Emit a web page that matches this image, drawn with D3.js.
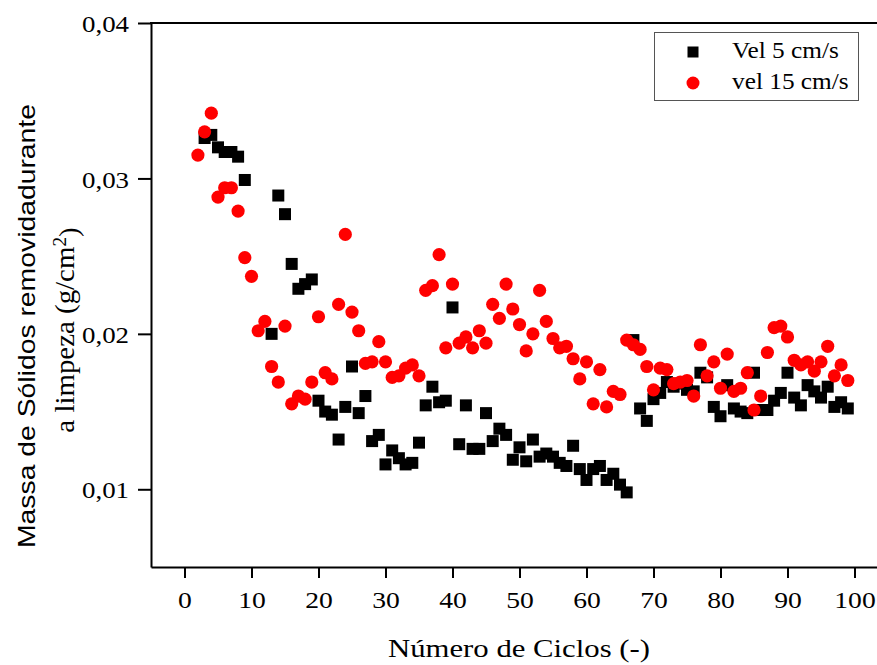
<!DOCTYPE html>
<html>
<head>
<meta charset="utf-8">
<script src="https://cdn.jsdelivr.net/npm/d3@7/dist/d3.min.js"></script>
<style>
  html, body { margin: 0; padding: 0; background: #fff; }
  svg { display: block; }
</style>
</head>
<body>
<svg id="chart" width="877" height="665"></svg>
<script>
// Cycle numbers and removed mass (g/cm²) for each cleaning speed
const cycles5 = [3,4,5,6,7,8,9,13,14,15,16,17,18,19,20,21,22,23,24,25,26,27,28,29,30,
  31,32,33,34,35,36,37,38,39,40,41,42,43,44,45,46,47,48,49,50,51,52,53,54,55,56,57,58,59,60,
  61,62,63,64,65,66,67,68,69,70,71,72,73,74,75,76,77,78,79,80,81,82,83,84,85,86,87,88,89,90,
  91,92,93,94,95,96,97,98,99];
const mass5 = [0.0326,0.0328,0.0320,0.0317,0.0317,0.0314,0.0299,0.0200,0.0289,0.0277,0.0245,
  0.0229,0.0232,0.0235,0.0157,0.0150,0.0148,0.0132,0.0153,0.0179,0.0149,0.0160,0.0131,0.0135,
  0.0116,0.0125,0.0120,0.0116,0.0117,0.0130,0.0154,0.0166,0.0156,0.0157,0.0217,0.0129,0.0154,
  0.0126,0.0126,0.0149,0.0131,0.0139,0.0135,0.0119,0.0127,0.0118,0.0132,0.0121,0.0123,0.0121,
  0.0117,0.0115,0.0128,0.0113,0.0106,0.0113,0.0115,0.0106,0.0110,0.0103,0.0098,0.0196,0.0152,
  0.0144,0.0158,0.0162,0.0169,0.0166,0.0168,0.0164,0.0163,0.0175,0.0172,0.0153,0.0147,0.0167,
  0.0152,0.0150,0.0149,0.0175,0.0151,0.0151,0.0157,0.0162,0.0175,0.0159,0.0154,0.0167,0.0163,
  0.0159,0.0166,0.0153,0.0156,0.0152];

const cycles15 = [2,3,4,5,6,7,8,9,10,11,12,13,14,15,16,17,18,19,20,21,22,23,24,25,26,27,28,29,30,
  31,32,33,34,35,36,37,38,39,40,41,42,43,44,45,46,47,48,49,50,51,52,53,54,55,56,57,58,59,60,
  61,62,63,64,65,66,67,68,69,70,71,72,73,74,75,76,77,78,79,80,81,82,83,84,85,86,87,88,89,90,
  91,92,93,94,95,96,97,98,99];
const mass15 = [0.0315,0.0330,0.0342,0.0288,0.0294,0.0294,0.0279,0.0249,0.0237,0.0202,0.0208,
  0.0179,0.0169,0.0205,0.0155,0.0160,0.0158,0.0169,0.0211,0.0175,0.0171,0.0219,0.0264,0.0214,
  0.0202,0.0181,0.0182,0.0195,0.0182,0.0172,0.0173,0.0178,0.0180,0.0173,0.0228,0.0231,0.0251,
  0.0191,0.0232,0.0194,0.0198,0.0191,0.0202,0.0194,0.0219,0.0210,0.0232,0.0216,0.0206,0.0189,
  0.0200,0.0228,0.0208,0.0197,0.0191,0.0192,0.0184,0.0171,0.0182,0.0155,0.0177,0.0153,0.0163,
  0.0161,0.0196,0.0193,0.0190,0.0179,0.0164,0.0178,0.0177,0.0168,0.0169,0.0170,0.0160,0.0193,
  0.0173,0.0182,0.0165,0.0187,0.0163,0.0165,0.0175,0.0151,0.0160,0.0188,0.0204,0.0205,0.0198,
  0.0183,0.0180,0.0182,0.0176,0.0182,0.0192,0.0173,0.0180,0.0170];

const xTicks = [0,10,20,30,40,50,60,70,80,90,100];
const yTicks = [0.01,0.02,0.03,0.04];
const seriesNames = ["Vel 5 cm/s", "vel 15 cm/s"];
const xTitle = "Número de Ciclos (-)";
const yTitle1 = "Massa de Sólidos removidadurante";
const yTitle2 = "a limpeza (g/cm";

const svg = d3.select("#chart");
const serif = "\"Liberation Serif\", \"Times New Roman\", serif";
const sans = "\"Liberation Sans\", Arial, sans-serif";

const plotLeft = 151, plotTop = 23, plotBottom = 567, plotRight = 888;
const x = d3.scaleLinear().domain([-5, 105]).range([plotLeft, plotRight]);
const y = d3.scaleLinear().domain([0.005, 0.04]).range([plotBottom, plotTop]);

// widen glyphs slightly, the way the serif labels are set
function stretch(sel, k) {
  sel.each(function() {
    const w = this.getComputedTextLength();
    d3.select(this).attr("textLength", w * k).attr("lengthAdjust", "spacingAndGlyphs");
  });
}

// axes
const xAxis = svg.append("g")
  .attr("transform", `translate(0,${plotBottom})`)
  .call(d3.axisBottom(x).tickValues(xTicks).tickSize(11).tickSizeOuter(0).tickPadding(13));
const yAxis = svg.append("g")
  .attr("transform", `translate(${plotLeft},0)`)
  .call(d3.axisLeft(y).tickValues(yTicks).tickSize(13).tickSizeOuter(0).tickPadding(9)
    .tickFormat(d => d3.format(".2f")(d).replace(".", ",")));

[xAxis, yAxis].forEach(g => {
  g.select(".domain").attr("stroke", "#000").attr("stroke-width", 2);
  g.selectAll(".tick line").attr("stroke", "#000").attr("stroke-width", 2);
  g.selectAll(".tick text").attr("fill", "#000")
    .style("font-family", serif).style("font-size", "24px");
});
xAxis.selectAll(".tick text").call(stretch, 1.15);
yAxis.selectAll(".tick text").attr("dy", "0.36em").call(stretch, 1.12);

// top and right borders of the frame
svg.append("line")
  .attr("x1", plotLeft - 1).attr("x2", plotRight).attr("y1", plotTop).attr("y2", plotTop)
  .attr("stroke", "#000").attr("stroke-width", 2);
svg.append("line")
  .attr("x1", plotRight).attr("x2", plotRight).attr("y1", plotTop).attr("y2", plotBottom)
  .attr("stroke", "#000").attr("stroke-width", 2);

// markers: squares for 5 cm/s, circles for 15 cm/s drawn on top
const sq = 12;
svg.append("g").selectAll("rect")
  .data(d3.zip(cycles5, mass5))
  .join("rect")
  .attr("x", d => x(d[0]) - sq / 2)
  .attr("y", d => y(d[1]) - sq / 2)
  .attr("width", sq).attr("height", sq)
  .attr("fill", "#000");

svg.append("g").selectAll("circle")
  .data(d3.zip(cycles15, mass15))
  .join("circle")
  .attr("cx", d => x(d[0]))
  .attr("cy", d => y(d[1]))
  .attr("r", 6.6)
  .attr("fill", "#ff0000");

// legend
const lg = svg.append("g");
lg.append("rect").attr("x", 654.5).attr("y", 32.5).attr("width", 204).attr("height", 68)
  .attr("fill", "#fff").attr("stroke", "#555").attr("stroke-width", 1);
lg.append("rect").attr("x", 693 - 5.5).attr("y", 52 - 5.5).attr("width", 11).attr("height", 11)
  .attr("fill", "#000");
lg.append("circle").attr("cx", 693).attr("cy", 83).attr("r", 6.5).attr("fill", "#ff0000");
lg.selectAll("text").data(seriesNames).join("text")
  .attr("x", 732).attr("y", (d, i) => i === 0 ? 58 : 89)
  .style("font-family", serif).style("font-size", "23px").attr("fill", "#000")
  .text(d => d)
  .call(stretch, 1.1);

// axis titles
svg.append("text")
  .attr("x", 519).attr("y", 657).attr("text-anchor", "middle")
  .style("font-family", serif).style("font-size", "26px").attr("fill", "#000")
  .attr("textLength", 262).attr("lengthAdjust", "spacingAndGlyphs")
  .text(xTitle);

svg.append("text")
  .attr("transform", "translate(35,326) rotate(-90)")
  .attr("text-anchor", "middle")
  .style("font-family", sans).style("font-size", "24px").attr("fill", "#000")
  .attr("textLength", 444).attr("lengthAdjust", "spacingAndGlyphs")
  .text(yTitle1);

const t2 = svg.append("text")
  .attr("transform", "translate(74,330) rotate(-90) scale(1.07,1)")
  .attr("text-anchor", "middle")
  .style("font-family", serif).style("font-size", "27px").attr("fill", "#000");
t2.append("tspan").text(yTitle2);
t2.append("tspan").attr("dy", "-0.45em").style("font-size", "18px").text("2");
t2.append("tspan").attr("dy", "0.45em").text(")");
</script>
</body>
</html>
